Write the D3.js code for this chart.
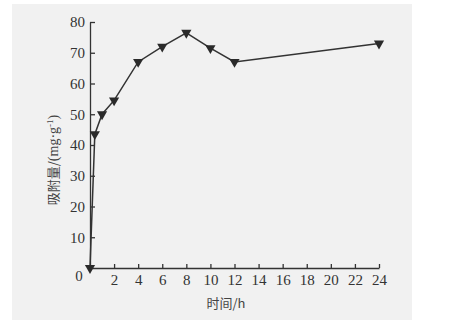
<!DOCTYPE html>
<html>
<head>
<meta charset="utf-8">
<script src="https://cdn.jsdelivr.net/npm/d3@7"></script>
<style>
  body { margin: 0; background: #fff; }
  .axis text { font-family: "Liberation Serif", serif; font-size: 15px; fill: #333; }
  .axis path, .axis line { stroke: #333; stroke-width: 1.3; }
</style>
</head>
<body>
<div id="chart"></div>
<script>
// data
const times = [0, 0.4, 1, 2, 4, 6, 8, 10, 12, 24];
const amounts = [0, 43.5, 50, 54.5, 67, 72, 76.5, 71.5, 67, 73];
const xTicks = [2, 4, 6, 8, 10, 12, 14, 16, 18, 20, 22, 24];
const yTicks = [10, 20, 30, 40, 50, 60, 70, 80];

const W = 466, H = 322;
const svg = d3.select("#chart").append("svg")
  .attr("width", W).attr("height", H);

// paper-ish gray background
svg.append("rect")
  .attr("x", 12).attr("y", 4).attr("width", 400).attr("height", 316)
  .attr("fill", "#f1f1f1");

const x = d3.scaleLinear().domain([0, 24]).range([90, 379]);
const y = d3.scaleLinear().domain([0, 80]).range([268, 22]);

//x axis
svg.append("g").attr("class", "axis")
  .attr("transform", `translate(0,${y(0)})`)
  .call(d3.axisBottom(x).tickValues(xTicks).tickSizeInner(-4).tickSizeOuter(0).tickPadding(6))

//y axis
svg.append("g").attr("class", "axis")
  .attr("transform", `translate(${x(0)},0)`)
  .call(d3.axisLeft(y).tickValues(yTicks).tickSizeInner(-5).tickSizeOuter(0).tickPadding(5))

// origin label
svg.append("text")
  .attr("x", x(0) - 11).attr("y", y(0) + 13)
  .attr("text-anchor", "middle")
  .style("font-family", "Liberation Serif, serif").style("font-size", "15px").style("fill", "#333")
  .text("0");

// line
const line = d3.line().x((d, i) => x(times[i])).y(d => y(d));
svg.append("path")
  .datum(amounts)
  .attr("d", line)
  .attr("fill", "none")
  .attr("stroke", "#333")
  .attr("stroke-width", 1.5);

// down triangles
const tri = d3.symbol().type(d3.symbolTriangle).size(45);
svg.selectAll(".pt")
  .data(amounts)
  .enter().append("path")
  .attr("class", "pt")
  .attr("d", tri)
  .attr("transform", (d, i) => `translate(${x(times[i])},${y(d)}) rotate(180)`)
  .attr("fill", "#2a2a2a");

// axis titles
svg.append("text")
  .attr("x", 226).attr("y", 308)
  .attr("text-anchor", "middle")
  .style("font-family", "Noto Sans CJK SC, serif").style("font-size", "13px").style("fill", "#444")
  .text("时间/h");

const yLab = svg.append("text")
  .attr("transform", "translate(53,160) rotate(-90)")
  .attr("text-anchor", "middle")
  .attr("dy", "0.35em")
  .style("font-size", "13px").style("fill", "#444");
yLab.append("tspan").style("font-family", "Noto Sans CJK SC, serif").text("吸附量/");
yLab.append("tspan").style("font-family", "Liberation Serif, serif").style("font-size", "14px").text("(mg·g");
yLab.append("tspan").style("font-family", "Liberation Serif, serif").style("font-size", "9px").attr("dy", "-5").text("-1");
yLab.append("tspan").style("font-family", "Liberation Serif, serif").style("font-size", "14px").attr("dy", "5").text(")");
</script>
</body>
</html>
